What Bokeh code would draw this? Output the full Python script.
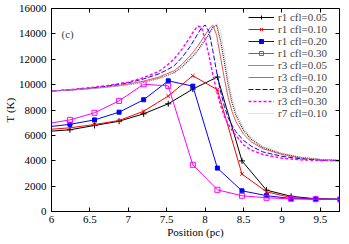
from bokeh.plotting import figure
from bokeh.models import (LinearAxis, FixedTicker, NumeralTickFormatter, CustomJSTickFormatter,
                          Legend, LegendItem, Label)
from bokeh.embed import file_html
from bokeh.resources import INLINE

# ---- data ----
x_ticks = [6, 6.5, 7, 7.5, 8, 8.5, 9, 9.5]
y_ticks = [0, 2000, 4000, 6000, 8000, 10000, 12000, 14000, 16000]

# r1 runs (coarse grid, with markers)
r1_x = [5.92, 6.24, 6.56, 6.88, 7.20, 7.52, 7.84, 8.16, 8.48, 8.80, 9.12, 9.44, 9.76]
r1_cfl005 = [6300, 6440, 6780, 7115, 7700, 8490, 9650, 10600, 3990, 1680, 1200, 1000, 970]
r1_cfl010 = [6450, 6595, 6855, 7170, 7905, 9100, 10700, 9600, 2950, 1550, 1100, 980, 960]
r1_cfl020 = [6650, 6870, 7220, 7830, 8810, 10300, 9880, 3420, 1630, 1250, 1020, 980, 960]
r1_cfl030 = [6900, 7220, 7780, 8720, 10030, 9900, 3680, 1710, 1240, 1080, 1000, 970, 950]

# r3 / r7 runs (fine grid, lines only)
fx = [6.0, 6.25, 6.5, 6.75, 7.0, 7.2, 7.4, 7.5, 7.6, 7.7, 7.8, 7.85, 7.9, 7.95, 8.0,
      8.05, 8.1, 8.15, 8.2, 8.25, 8.3, 8.35, 8.4, 8.5, 8.6, 8.75, 9.0, 9.25, 9.5, 9.75]
r3_cfl005 = [9500, 9570, 9680, 9820, 10000, 10200, 10500, 10700, 10950, 11400, 12000, 12300, 12650, 13100, 13500,
             14000, 14500, 14700, 13500, 11800, 10000, 8600, 7600, 6400, 5700, 5050, 4550, 4250, 4100, 4030]
r3_cfl010 = [9500, 9580, 9700, 9850, 10050, 10280, 10600, 10850, 11100, 11600, 12250, 12600, 13000, 13450, 13900,
             14400, 14700, 13900, 12200, 10500, 9000, 7900, 7100, 6100, 5500, 4950, 4500, 4220, 4090, 4020]
r3_cfl020 = [9500, 9590, 9720, 9900, 10150, 10450, 10850, 11150, 11500, 12150, 12950, 13450, 13950, 14450, 14700,
             14200, 12700, 11000, 9500, 8300, 7400, 6800, 6300, 5600, 5150, 4700, 4350, 4150, 4050, 4000]
r3_cfl030 = [9500, 9610, 9760, 9950, 10200, 10550, 11050, 11500, 12050, 12800, 13700, 14200, 14600, 14550, 13600,
             12300, 10800, 9500, 8400, 7500, 6900, 6400, 6000, 5250, 4850, 4500, 4200, 4070, 4020, 3990]
r7_cfl010 = [9500, 9570, 9680, 9820, 10000, 10200, 10480, 10680, 10920, 11350, 11950, 12250, 12600, 13000, 13400,
             13900, 14350, 14800, 14300, 12500, 10600, 9000, 7900, 6600, 5850, 5150, 4600, 4270, 4110, 4030]

SERIF = "'Liberation Serif'"

p = figure(width=349, height=244, x_range=(6, 9.75), y_range=(0, 16000),
           output_backend="svg", toolbar_location=None,
           min_border_left=44, min_border_right=10, min_border_top=8, min_border_bottom=33)
p.xgrid.visible = False
p.ygrid.visible = False
p.outline_line_color = "black"
p.outline_line_width = 1

for ax, tk in ((p.xaxis[0], x_ticks), (p.yaxis[0], y_ticks)):
    ax.ticker = FixedTicker(ticks=tk)
    ax.formatter = NumeralTickFormatter(format="0.[0]")
    ax.major_tick_in = 4
    ax.major_tick_out = 0
    ax.minor_tick_in = 0
    ax.minor_tick_out = 0
    ax.axis_line_color = "black"
    ax.major_label_text_font = SERIF
    ax.major_label_text_font_size = "11px"
    ax.major_label_text_color = "black"
    ax.axis_label_text_font = SERIF
    ax.axis_label_text_font_size = "11px"
    ax.axis_label_text_font_style = "normal"
    ax.axis_label_text_color = "black"
    ax.axis_label_standoff = 0

p.xaxis[0].axis_label = "Position (pc)"
p.yaxis[0].axis_label = "T (K)"
p.xaxis[0].major_label_standoff = 4
p.yaxis[0].major_label_standoff = 5

# mirror ticks on top and right (no labels)
for loc, tk in (("above", x_ticks), ("right", y_ticks)):
    m = LinearAxis(ticker=FixedTicker(ticks=tk), major_tick_in=4, major_tick_out=0,
                   minor_tick_in=0, minor_tick_out=0, axis_line_color=None,
                   formatter=CustomJSTickFormatter(code="return ''"),
                   major_label_text_font_size="1px", major_label_standoff=0)
    p.add_layout(m, loc)

items = []
specs = [
    ("r1 cfl=0.05", r1_cfl005, "black", "cross", 6, "black"),
    ("r1 cfl=0.10", r1_cfl010, "red", "x", 5, "red"),
    ("r1 cfl=0.20", r1_cfl020, "blue", "square", 4, "blue"),
    ("r1 cfl=0.30", r1_cfl030, "#ff00ff", "square", 5, None),
]
for lab, ys, col, mk, sz, fill in specs:
    l = p.line(r1_x, ys, line_color=col, line_width=1)
    s = p.scatter(r1_x, ys, marker=mk, size=sz, line_color=col,
                  fill_color=fill if fill else None, line_width=1)
    items.append(LegendItem(label=lab, renderers=[l, s]))

lspecs = [
    ("r3 cfl=0.05", r3_cfl005, "#202020", "1 1", 1.2),
    ("r3 cfl=0.10", r3_cfl010, "#f05050", "solid", 1),
    ("r3 cfl=0.20", r3_cfl020, "blue", "5 2", 1),
    ("r3 cfl=0.30", r3_cfl030, "#ff00ff", "3 2", 1.4),
    ("r7 cfl=0.10", r7_cfl010, "#c0c0c0", "1 1", 1),
]
for lab, ys, col, dash, w in lspecs:
    l = p.line(fx, ys, line_color=col, line_dash=dash, line_width=w)
    items.append(LegendItem(label=lab, renderers=[l]))

leg = Legend(items=items, location=(197, 92), background_fill_alpha=0,
             border_line_color=None, label_text_font=SERIF, label_text_font_size="11px",
             label_height=10, glyph_height=10, glyph_width=26, spacing=-4, padding=2,
             margin=0, label_standoff=4)
p.add_layout(leg)

p.add_layout(Label(x=6.13, y=14000, text="(c)", text_font=SERIF, text_font_size="11px",
                   text_baseline="middle"))

open("out.html", "w").write(file_html(p, INLINE))
